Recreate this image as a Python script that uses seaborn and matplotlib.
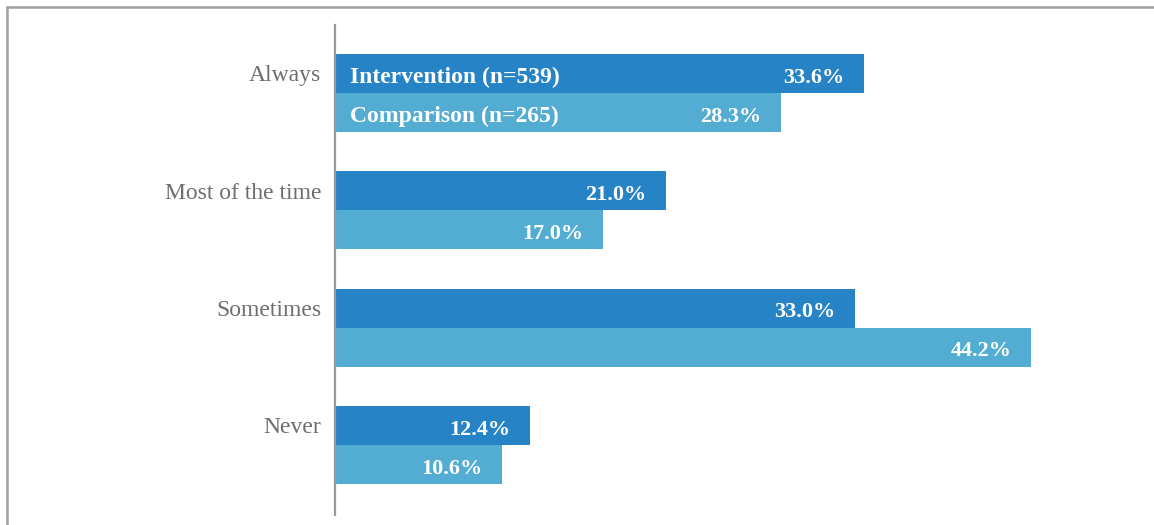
import pandas as pd
import seaborn as sns
import matplotlib.pyplot as plt
from matplotlib.patches import Rectangle

# ---------------- data ----------------
categories = ['Always', 'Most of the time', 'Sometimes', 'Never']
groups = ['Intervention (n=539)', 'Comparison (n=265)']
intervention = [33.6, 21.0, 33.0, 12.4]
comparison = [28.3, 17.0, 44.2, 10.6]
colors = ['#2683C6', '#53ACD2']

df = pd.DataFrame({
    'category': categories * 2,
    'group': [groups[0]] * 4 + [groups[1]] * 4,
    'pct': intervention + comparison,
})

sns.set_theme(style='white')
plt.rcParams['font.family'] = ['Liberation Serif', 'DejaVu Serif']

fig = plt.figure(figsize=(11.54, 5.25), dpi=100)
ax = fig.add_axes([335 / 1154, 10 / 525, 787.5 / 1154, 490 / 525])

sns.barplot(data=df, y='category', x='pct', hue='group', order=categories,
            hue_order=groups, palette=colors, orient='h', width=0.667,
            saturation=1, legend=False, linewidth=0, ax=ax)

ax.set_xlim(0, 50)
ax.set_ylim(3.597, -0.58)
ax.set_xlabel('')
ax.set_ylabel('')
ax.set_xticks([])
ax.set_yticks([i - 0.1667 for i in range(len(categories))])
ax.set_yticklabels(categories, fontsize=17, color='#6d6e71')
ax.tick_params(axis='y', length=0, pad=10)
for s in ['top', 'right', 'bottom']:
    ax.spines[s].set_visible(False)
ax.spines['left'].set_color('#999999')
ax.spines['left'].set_linewidth(1.6)

# value labels inside bar ends
for cont in ax.containers:
    for p in cont:
        ax.annotate(f'{p.get_width():.1f}%',
                    (p.get_width(), p.get_y() + p.get_height() / 2),
                    xytext=(-14, -3), textcoords='offset points',
                    ha='right', va='center', color='white',
                    fontsize=16, fontweight='bold')

# series names inside the first group's bars
for cont, name in zip(ax.containers, groups):
    p = cont[0]
    ax.annotate(name, (0, p.get_y() + p.get_height() / 2),
                xytext=(11, -3), textcoords='offset points',
                ha='left', va='center', color='white',
                fontsize=17, fontweight='bold')

# outer frame (cut off at right and bottom)
fig.patches.append(Rectangle((7 / 1154, -0.1), 1.2, 1 - 7 / 525 + 0.1,
                             transform=fig.transFigure, fill=False,
                             edgecolor='#a0a0a0', linewidth=1.8))

fig.savefig('out.png', dpi=100)
